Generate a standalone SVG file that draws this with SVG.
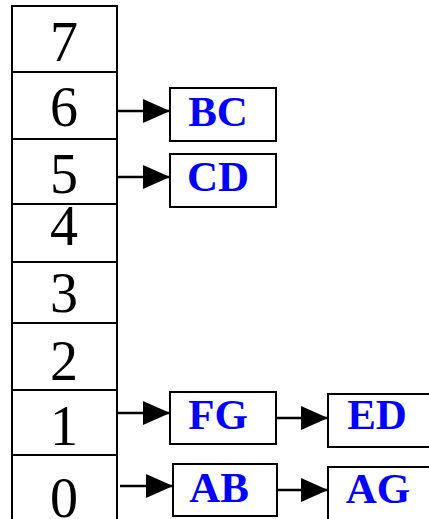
<svg xmlns="http://www.w3.org/2000/svg" width="429" height="519" viewBox="0 0 429 519">
<style>
.cell{fill:#fff;stroke:#000;stroke-width:2}
.digit{font-family:"Liberation Serif",serif;font-size:56px;fill:#000;text-anchor:middle}
.box{fill:#fff;stroke:#000;stroke-width:2}
.lbl{font-family:"Liberation Serif",serif;font-weight:bold;font-size:43px;fill:#0000ff;text-anchor:middle}
.conn{stroke:#000;stroke-width:2.5;fill:none;marker-end:url(#ah)}
</style>
<defs>
<marker id="ah" viewBox="0 0 27 24" refX="27" refY="12" markerWidth="27" markerHeight="24" markerUnits="userSpaceOnUse" orient="auto">
<path d="M0,0 L27,12 L0,24 Z" fill="#000"/>
</marker>
</defs>
<g id="table">
<g id="cell7"><rect class="cell" x="12" y="6" width="105" height="66"/><text class="digit" x="64" y="61">7</text></g>
<g id="cell6"><rect class="cell" x="12" y="72" width="105" height="67"/><text class="digit" x="64" y="126">6</text></g>
<g id="cell5"><rect class="cell" x="12" y="139" width="105" height="65"/><text class="digit" x="64" y="193">5</text></g>
<g id="cell4"><rect class="cell" x="12" y="204" width="105" height="58"/><text class="digit" x="64" y="245">4</text></g>
<g id="cell3"><rect class="cell" x="12" y="262" width="105" height="61"/><text class="digit" x="64" y="312">3</text></g>
<g id="cell2"><rect class="cell" x="12" y="323" width="105" height="67"/><text class="digit" x="64" y="380">2</text></g>
<g id="cell1"><rect class="cell" x="12" y="390" width="105" height="65"/><text class="digit" x="64" y="445">1</text></g>
<g id="cell0"><rect class="cell" x="12" y="455" width="105" height="70"/><text class="digit" x="64" y="517">0</text></g>
</g>
<g id="BC"><rect class="box" x="170" y="88" width="106" height="53"/><text class="lbl" x="218" y="126">BC</text></g>
<g id="CD"><rect class="box" x="170" y="154" width="106" height="53"/><text class="lbl" x="218" y="191">CD</text></g>
<g id="FG"><rect class="box" x="170" y="392" width="106" height="52"/><text class="lbl" x="218" y="429">FG</text></g>
<g id="ED"><rect class="box" x="328" y="394" width="110" height="53"/><text class="lbl" x="377" y="429">ED</text></g>
<g id="AB"><rect class="box" x="173" y="464" width="104" height="52"/><text class="lbl" x="219" y="502">AB</text></g>
<g id="AG"><rect class="box" x="328" y="467" width="110" height="60"/><text class="lbl" x="378" y="503">AG</text></g>
<g id="connectors">
<line class="conn" x1="117" y1="111" x2="170" y2="111"/>
<line class="conn" x1="117" y1="177" x2="170" y2="177"/>
<line class="conn" x1="117" y1="413" x2="170" y2="413"/>
<line class="conn" x1="276" y1="418" x2="328" y2="418"/>
<line class="conn" x1="120" y1="486" x2="173" y2="486"/>
<line class="conn" x1="277" y1="490" x2="328" y2="490"/>
</g>
</svg>
